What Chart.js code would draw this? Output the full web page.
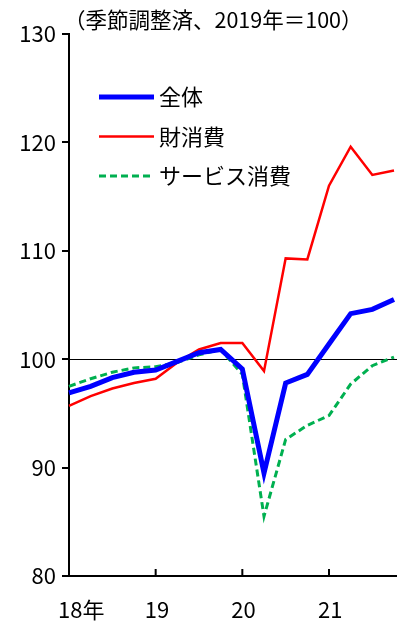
<!DOCTYPE html>
<html>
<head>
<meta charset="utf-8">
<script src="https://cdn.jsdelivr.net/npm/chart.js@4.4.1/dist/chart.umd.min.js"></script>
<style>
  html, body { margin: 0; padding: 0; background: #fff; }
  #wrap { position: relative; width: 398px; height: 627px; }
</style>
</head>
<body>
<div id="wrap"><canvas id="c"></canvas></div>
<script>
// quarterly, 2018Q1 .. 2021Q4
var quarters = ['18年', '', '', '', '19', '', '', '', '20', '', '', '', '21', '', '', ''];
var total    = [96.9, 97.5, 98.3, 98.8, 99.0, 99.8, 100.6, 100.9, 99.1, 89.5, 97.8, 98.6, 101.4, 104.2, 104.6, 105.5];
var goods    = [95.7, 96.6, 97.3, 97.8, 98.2, 99.7, 100.9, 101.5, 101.5, 98.9, 109.3, 109.2, 116.0, 119.6, 117.0, 117.4];
var services = [97.5, 98.2, 98.8, 99.2, 99.3, 99.7, 100.4, 100.9, 98.6, 85.5, 92.6, 93.9, 94.8, 97.7, 99.4, 100.2];
var seriesNames = ['全体', '財消費', 'サービス消費'];
var yTicks = [80, 90, 100, 110, 120, 130];
var baseLine = 100;
var unitNote = '（季節調整済、2019年＝100）';

var FONT = '"Noto Sans CJK JP", "Noto Sans", sans-serif';

// extras: unit note, base line at 100, inner x ticks, legend box
var extras = {
    id: 'extras',
    beforeDatasetsDraw: function (chart) {
        var ctx = chart.ctx, a = chart.chartArea;
        var y = chart.scales.y.getPixelForValue(baseLine);
        ctx.save();
        ctx.strokeStyle = '#000';
        ctx.lineWidth = 1;
        ctx.beginPath();
        ctx.moveTo(a.left, Math.round(y) + 0.5);
        ctx.lineTo(a.right + 3, Math.round(y) + 0.5);
        ctx.stroke();
        ctx.restore();
    },
    afterDraw: function (chart) {
        var ctx = chart.ctx, a = chart.chartArea, xs = chart.scales.x;
        ctx.save();
        // x axis line and inward tick marks at each year
        ctx.strokeStyle = '#000';
        ctx.lineWidth = 2;
        ctx.beginPath();
        ctx.moveTo(a.left, a.bottom);
        ctx.lineTo(a.right + 3, a.bottom);
        quarters.forEach(function (q, i) {
            if (q === '') return;
            var x = xs.getPixelForValue(i);
            ctx.moveTo(x, a.bottom);
            ctx.lineTo(x, a.bottom - 7);
        });
        ctx.stroke();
        // unit note
        ctx.fillStyle = '#000';
        ctx.font = '21.5px ' + FONT;
        ctx.textBaseline = 'middle';
        ctx.textAlign = 'left';
        ctx.fillText(unitNote, a.left - 5, 20);
        // legend
        ctx.font = '22px ' + FONT;
        chart.data.datasets.forEach(function (ds, i) {
            var ly = 97 + i * 39.5;
            ctx.strokeStyle = ds.borderColor;
            ctx.lineWidth = ds.borderWidth;
            ctx.setLineDash(ds.borderDash || []);
            ctx.beginPath();
            ctx.moveTo(99, ly);
            ctx.lineTo(154, ly);
            ctx.stroke();
            ctx.setLineDash([]);
            ctx.fillText(ds.label, 159, ly);
        });
        ctx.restore();
    }
};

new Chart(document.getElementById('c'), {
    type: 'line',
    data: {
        labels: quarters,
        datasets: [
            { label: seriesNames[0], data: total, borderColor: '#0000FF', borderWidth: 5, pointRadius: 0, tension: 0 },
            { label: seriesNames[1], data: goods, borderColor: '#FF0000', borderWidth: 2.5, pointRadius: 0, tension: 0 },
            { label: seriesNames[2], data: services, borderColor: '#00B050', borderWidth: 3, borderDash: [7, 4], pointRadius: 0, tension: 0 }
        ]
    },
    options: {
        responsive: true,
        maintainAspectRatio: false,
        animation: false,
        layout: { padding: { top: 34, right: 4, left: 0, bottom: 0 } },
        plugins: { legend: { display: false }, tooltip: { enabled: false } },
        scales: {
            x: {
                offset: false,
                afterFit: function (s) { s.height = 51; s.paddingLeft = 0; s.paddingRight = 0; },
                grid: { display: false },
                border: { display: false },
                ticks: {
                    autoSkip: false, maxRotation: 0, align: 'start', labelOffset: -11, padding: 12,
                    color: '#000', font: { family: FONT, size: 22 }
                }
            },
            y: {
                min: 80, max: 130,
                afterFit: function (s) { s.width = 69; },
                afterBuildTicks: function (s) { s.ticks = yTicks.map(function (v) { return { value: v }; }); },
                grid: { drawOnChartArea: false, drawTicks: true, tickLength: 7, color: '#000', lineWidth: 2 },
                border: { display: true, color: '#000', width: 2 },
                ticks: { padding: 6, color: '#000', font: { family: FONT, size: 22 } }
            }
        }
    },
    plugins: [extras]
});
</script>
</body>
</html>
